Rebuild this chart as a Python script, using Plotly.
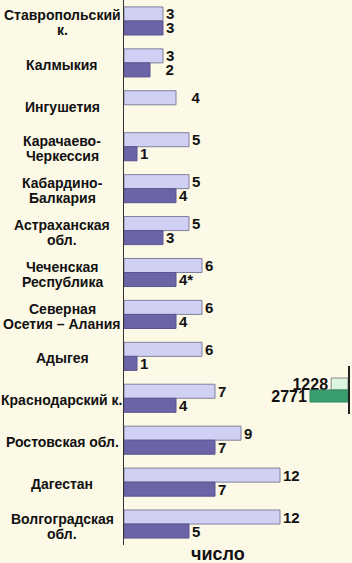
import plotly.graph_objects as go

# ---- data ----
categories = [
    "Ставропольский<br>к.", "Калмыкия", "Ингушетия", "Карачаево-<br>Черкессия",
    "Кабардино-<br>Балкария", "Астраханская<br>обл.", "Чеченская<br>Республика",
    "Северная<br>Осетия – Алания", "Адыгея", "Краснодарский к.",
    "Ростовская обл.", "Дагестан", "Волгоградская<br>обл.",
]
light_values = [3, 3, 4, 5, 5, 5, 6, 6, 6, 7, 9, 12, 12]
dark_values = [3, 2, None, 1, 4, 3, 4, 4, 1, 4, 7, 7, 5]
light_text = ["3", "3", "\u00a0\u00a0\u00a04", "5", "5", "5", "6", "6", "6", "7", "9", "12", "12"]
dark_text = ["3", "\u00a0\u00a0\u00a02", "", "1", "4", "3", "4*", "4", "1", "4", "7", "7", "5"]
side_values = [1228, 2771]
side_text = ["1228", "2771"]
axis_title = "число"

# ---- styling ----
W, H = 352, 563
BG = "#fdf9e7"
FONT = "Liberation Sans, Arial, sans-serif"
LIGHT = "#d0d0f5"
DARK = "#6b64a6"
BW = 0.335  # bar thickness in category units
VAL_SIZE = 15

fig = go.Figure()
fig.add_trace(go.Bar(
    y=categories, x=light_values, orientation="h",
    width=BW, offset=-BW,
    marker=dict(color=LIGHT, line=dict(color="#80809a", width=1)),
    text=light_text, textposition="outside", constraintext="none", cliponaxis=False,
    textfont=dict(family=FONT, size=VAL_SIZE, color="#111", weight=700),
    xaxis="x", yaxis="y", showlegend=False, hoverinfo="skip",
))
fig.add_trace(go.Bar(
    y=categories, x=dark_values, orientation="h",
    width=BW, offset=0,
    marker=dict(color=DARK, line=dict(color="#5a5490", width=1)),
    text=dark_text, textposition="outside", constraintext="none", cliponaxis=False,
    textfont=dict(family=FONT, size=VAL_SIZE, color="#111", weight=700),
    xaxis="x", yaxis="y", showlegend=False, hoverinfo="skip",
))
# partial side chart at right
fig.add_trace(go.Bar(
    y=[0], x=[side_values[0]], orientation="h", width=0.5, offset=-0.5,
    marker=dict(color="#dcf5df", line=dict(color="#8a8a8a", width=1)),
    text=[side_text[0]], textposition="outside", constraintext="none", cliponaxis=False,
    textfont=dict(family=FONT, size=16, color="#111", weight=700),
    xaxis="x2", yaxis="y2", showlegend=False, hoverinfo="skip",
))
fig.add_trace(go.Bar(
    y=[0], x=[side_values[1]], orientation="h", width=0.5, offset=0,
    marker=dict(color="#3a9e6e", line=dict(color="#2f8a5e", width=1)),
    text=[side_text[1]], textposition="outside", constraintext="none", cliponaxis=False,
    textfont=dict(family=FONT, size=16, color="#111", weight=700),
    xaxis="x2", yaxis="y2", showlegend=False, hoverinfo="skip",
))

# category labels (centered, tight line spacing)
LINE_H = 15
for cat in categories:
    lines = cat.split("<br>")
    n = len(lines)
    for i, ln in enumerate(lines):
        fig.add_annotation(
            x=62 / W, xref="paper", xanchor="center",
            y=cat, yref="y", yanchor="middle",
            yshift=((n - 1) / 2 - i) * LINE_H - 2,
            text=ln, showarrow=False,
            font=dict(family=FONT, size=14, color="#111", weight=700),
        )

fig.add_annotation(
    x=218 / W, xref="paper", xanchor="center",
    y=1 - 554 / H, yref="paper", yanchor="middle",
    text=axis_title, showarrow=False,
    font=dict(family=FONT, size=18, color="#111", weight=700),
)

fig.update_layout(
    width=W, height=H,
    margin=dict(l=0, r=0, t=0, b=0),
    paper_bgcolor=BG, plot_bgcolor="rgba(0,0,0,0)",
    barmode="overlay",
    xaxis=dict(domain=[124 / W, 1], range=[0, (W - 124) / 13], visible=False, anchor="y"),
    yaxis=dict(domain=[1 - 545 / H, 1], range=[12.5, -0.5], type="category",
               categoryorder="array", categoryarray=categories,
               showline=True, linecolor="#333", linewidth=1,
               showticklabels=False, showgrid=False, zeroline=False, ticks="", anchor="x"),
    xaxis2=dict(domain=[250 / W, 348 / W], range=[98 / (38 / 2771), 0], visible=False, anchor="y2"),
    yaxis2=dict(domain=[1 - 414 / H, 1 - 366 / H], range=[1, -1], anchor="x2", side="right",
                showline=True, linecolor="#222", linewidth=2,
                showticklabels=False, showgrid=False, zeroline=False, ticks=""),
)

fig.write_html(
    "out.html",
    config={"displayModeBar": False, "staticPlot": True},
    post_script="document.body.style.margin='0';document.body.style.background='" + BG + "';",
)
